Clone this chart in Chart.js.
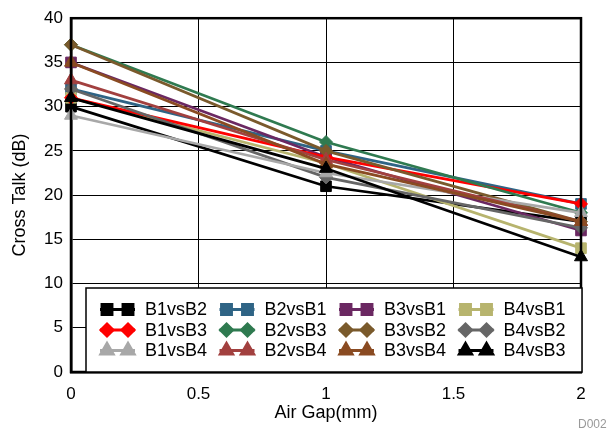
<!DOCTYPE html>
<html>
<head>
<meta charset="utf-8">
<script src="https://cdn.jsdelivr.net/npm/chart.js@4.4.0/dist/chart.umd.min.js"></script>
<style>
  html, body { margin: 0; padding: 0; background: #fff; }
</style>
</head>
<body>
<canvas id="crossTalk" width="608" height="433"></canvas>
<script>
// x values (air gap in mm)
const airGap = [0, 1, 2];

// cross talk in dB, one array per pair
const b1vsB2 = [30, 21, 17];
const b2vsB1 = [32, 25, 19];
const b3vsB1 = [35, 24.3, 16];
const b4vsB1 = [31, 23.6, 14];
const b1vsB3 = [31, 24.3, 19];
const b2vsB3 = [37, 26, 18];
const b3vsB2 = [37, 25, 17];
const b4vsB2 = [32, 22, 16.3];
const b1vsB4 = [29, 22.5, 18];
const b2vsB4 = [33, 24, 17];
const b3vsB4 = [35, 23.5, 17];
const b4vsB3 = [31, 23, 13];

const seriesNames = ['B1vsB2', 'B2vsB1', 'B3vsB1', 'B4vsB1',
                     'B1vsB3', 'B2vsB3', 'B3vsB2', 'B4vsB2',
                     'B1vsB4', 'B2vsB4', 'B3vsB4', 'B4vsB3'];
const seriesValues = [b1vsB2, b2vsB1, b3vsB1, b4vsB1,
                      b1vsB3, b2vsB3, b3vsB2, b4vsB2,
                      b1vsB4, b2vsB4, b3vsB4, b4vsB3];

const colors = ['#000000', '#2f6485', '#6b2862', '#b7b46e',
                '#ff0000', '#2f7a50', '#7a5a2c', '#666666',
                '#a8a8a8', '#a2403f', '#8a4b22', '#000000'];
const styles = ['rect', 'rect', 'rect', 'rect',
                'rectRot', 'rectRot', 'rectRot', 'rectRot',
                'triangle', 'triangle', 'triangle', 'triangle'];

const FONT = "'Liberation Sans', Arial, sans-serif";

const datasets = seriesNames.map((name, i) => ({
    label: name,
    data: airGap.map((x, j) => ({ x: x, y: seriesValues[i][j] })),
    borderColor: colors[i],
    backgroundColor: colors[i],
    pointBackgroundColor: colors[i],
    pointBorderColor: colors[i],
    pointStyle: styles[i],
    pointRadius: styles[i] === 'rectRot' ? 6.5 : 7.5,
    pointBorderWidth: 1,
    borderWidth: 2.75,
    tension: 0,
    clip: false,
    order: seriesNames.length - i   // later series on top
}));

// frame round the plot, drawn over the markers like the original
const framePlugin = {
    id: 'frame',
    afterDatasetsDraw(chart) {
        const { ctx, chartArea: a } = chart;
        ctx.save();
        ctx.strokeStyle = '#000';
        ctx.lineWidth = 2.5;
        ctx.strokeRect(a.left, a.top, a.right - a.left, a.bottom - a.top);
        ctx.restore();
    }
};

// boxed legend inside the plot, 4 columns x 3 rows
const boxLegendPlugin = {
    id: 'boxLegend',
    afterDraw(chart) {
        const { ctx, chartArea: a } = chart;
        const left = a.left + 15, top = a.bottom - 84;
        const right = a.right + 1, bottom = a.bottom;
        ctx.save();
        ctx.fillStyle = '#fff';
        ctx.fillRect(left, top, right - left, bottom - top);
        ctx.strokeStyle = '#000';
        ctx.lineWidth = 1.5;
        ctx.strokeRect(left, top, right - left, bottom - top);

        chart.data.datasets.forEach((ds, i) => {
            const col = i % 4, row = Math.floor(i / 4);
            const x0 = left + 14 + col * 119.5;
            const y = top + 21.5 + row * 20.5;
            ctx.strokeStyle = ds.borderColor;
            ctx.fillStyle = ds.borderColor;
            ctx.lineWidth = 3;
            ctx.beginPath();
            ctx.moveTo(x0, y);
            ctx.lineTo(x0 + 35, y);
            ctx.stroke();
            const opts = { pointStyle: ds.pointStyle, radius: ds.pointRadius - 0.5, rotation: 0, borderWidth: 1 };
            Chart.helpers.drawPoint(ctx, opts, x0 + 7, y);
            Chart.helpers.drawPoint(ctx, opts, x0 + 28, y);
            ctx.fillStyle = '#000';
            ctx.font = '18px ' + FONT;
            ctx.textBaseline = 'middle';
            ctx.textAlign = 'left';
            ctx.fillText(ds.label, x0 + 45, y + 1);
        });

        ctx.fillStyle = '#999';
        ctx.font = '12px ' + FONT;
        ctx.textBaseline = 'middle';
        ctx.fillText('D002', 578, 425);
        ctx.restore();
    }
};

new Chart(document.getElementById('crossTalk').getContext('2d'), {
    type: 'line',
    data: { datasets: datasets },
    options: {
        responsive: false,
        animation: false,
        devicePixelRatio: 1,
        layout: { padding: { top: 13, right: 27, left: 0, bottom: 0 } },
        plugins: {
            legend: { display: false },
            tooltip: { enabled: false }
        },
        scales: {
            x: {
                type: 'linear',
                min: 0,
                max: 2,
                afterFit: s => { s.height = 61; },
                ticks: { stepSize: 0.5, color: '#000', padding: 12, font: { family: FONT, size: 17 },
                         callback: v => String(v) },
                grid: { color: '#000', lineWidth: 1, drawTicks: false },
                border: { color: '#000', width: 2.5 },
                title: { display: true, text: 'Air Gap(mm)', color: '#000',
                         padding: { top: 0, bottom: 9 }, font: { family: FONT, size: 18 } }
            },
            y: {
                min: 0,
                max: 40,
                afterFit: s => { s.width = 71; },
                ticks: { stepSize: 5, color: '#000', padding: 8, font: { family: FONT, size: 17 } },
                grid: { color: '#000', lineWidth: 1, drawTicks: false },
                border: { color: '#000', width: 2.5 },
                title: { display: true, text: 'Cross Talk (dB)', color: '#000',
                         padding: { top: 9, bottom: 0 }, font: { family: FONT, size: 18 } }
            }
        }
    },
    plugins: [framePlugin, boxLegendPlugin]
});
</script>
</body>
</html>
